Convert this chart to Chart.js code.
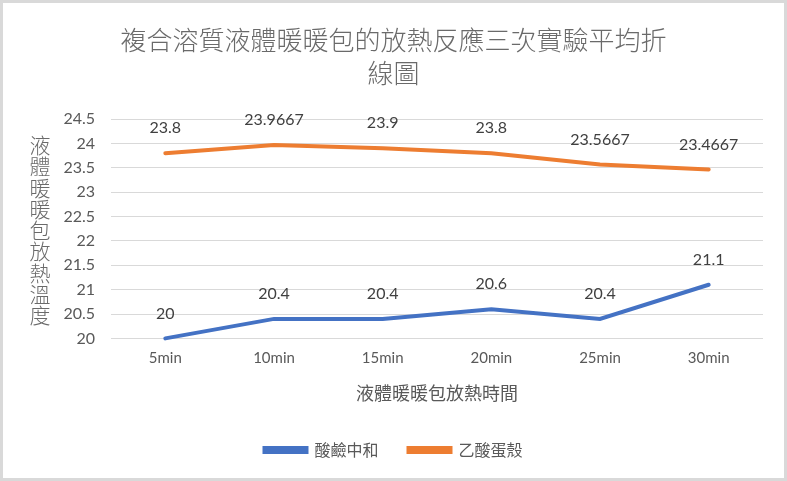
<!DOCTYPE html>
<html>
<head>
<meta charset="utf-8">
<script src="https://cdn.jsdelivr.net/npm/chart.js@4.4.1/dist/chart.umd.min.js"></script>
<style>
  html, body { margin: 0; padding: 0; background: #fff; }
  #wrap { width: 787px; height: 481px; position: relative; }
  canvas { display: block; }
</style>
</head>
<body>
<div id="wrap"><canvas id="chart" width="787" height="481"></canvas></div>
<script>
// 資料
const labels = ['5min', '10min', '15min', '20min', '25min', '30min'];
const acidBase = [20, 20.4, 20.4, 20.6, 20.4, 21.1];
const eggShell = [23.8, 23.9667, 23.9, 23.8, 23.5667, 23.4667];
const titleLines = ['複合溶質液體暖暖包的放熱反應三次實驗平均折', '線圖'];
const yTitle = '液體暖暖包放熱溫度';
const xTitle = '液體暖暖包放熱時間';

const cjk = '"Noto Sans CJK TC", "Noto Sans", sans-serif';
const num = 'Lato, "Noto Sans CJK TC", sans-serif';
const grey = '#595959';

// 數據標籤 + 直式 y 軸標題 + 外框
const extras = {
    id: 'extras',
    afterDatasetsDraw(chart) {
        const ctx = chart.ctx;
        ctx.save();
        ctx.font = '16px ' + num;
        ctx.fillStyle = '#404040';
        ctx.textAlign = 'center';
        ctx.textBaseline = 'middle';
        chart.data.datasets.forEach((ds, i) => {
            chart.getDatasetMeta(i).data.forEach((pt, j) => {
                ctx.fillText(String(ds.data[j]), pt.x, pt.y - 25);
            });
        });
        ctx.restore();
    },
    afterDraw(chart) {
        const ctx = chart.ctx;
        ctx.save();
        ctx.font = '300 21px ' + cjk;
        ctx.fillStyle = '#6a6a6a';
        ctx.textAlign = 'center';
        ctx.textBaseline = 'middle';
        [...yTitle].forEach((ch, i) => {
            ctx.fillText(ch, 40, 145 + i * 21.3);
        });
        ctx.strokeStyle = '#d9d9d9';
        ctx.lineWidth = 3;
        ctx.strokeRect(1.5, 1.5, chart.width - 3, chart.height - 3);
        ctx.restore();
    }
};

new Chart(document.getElementById('chart'), {
    type: 'line',
    data: {
        labels: labels,
        datasets: [{
            label: '酸鹼中和',
            data: acidBase,
            borderColor: '#4472C4',
            backgroundColor: '#4472C4',
            borderWidth: 4,
            pointRadius: 0,
            borderCapStyle: 'round',
            tension: 0,
            clip: false
        }, {
            label: '乙酸蛋殼',
            data: eggShell,
            borderColor: '#ED7D31',
            backgroundColor: '#ED7D31',
            borderWidth: 4,
            pointRadius: 0,
            borderCapStyle: 'round',
            tension: 0,
            clip: false
        }]
    },
    options: {
        responsive: false,
        animation: false,
        layout: { padding: { left: 24, right: 24, top: 0, bottom: 13 } },
        plugins: {
            title: {
                display: true,
                text: titleLines,
                color: '#6a6a6a',
                font: { family: cjk, size: 26, weight: 300, lineHeight: 1.27 },
                padding: { top: 24, bottom: 29 }
            },
            legend: {
                position: 'bottom',
                labels: {
                    color: grey,
                    font: { family: cjk, size: 16 },
                    boxWidth: 42,
                    boxHeight: 4,
                    padding: 30
                }
            },
            tooltip: { enabled: false }
        },
        scales: {
            x: {
                offset: true,
                grid: { display: false },
                border: { display: false },
                ticks: { color: grey, font: { family: num, size: 15 }, padding: 3 },
                title: {
                    display: true,
                    text: xTitle,
                    color: grey,
                    font: { family: cjk, size: 18 },
                    padding: { top: 12, bottom: 8 }
                }
            },
            y: {
                min: 20,
                max: 24.5,
                afterFit(scale) { scale.width = 87; },
                ticks: {
                    stepSize: 0.5,
                    color: grey,
                    font: { family: num, size: 16 },
                    padding: 16,
                    callback: v => String(v)
                },
                grid: { color: '#d9d9d9', lineWidth: 1, drawTicks: false },
                border: { display: false }
            }
        }
    },
    plugins: [extras]
});
</script>
</body>
</html>
